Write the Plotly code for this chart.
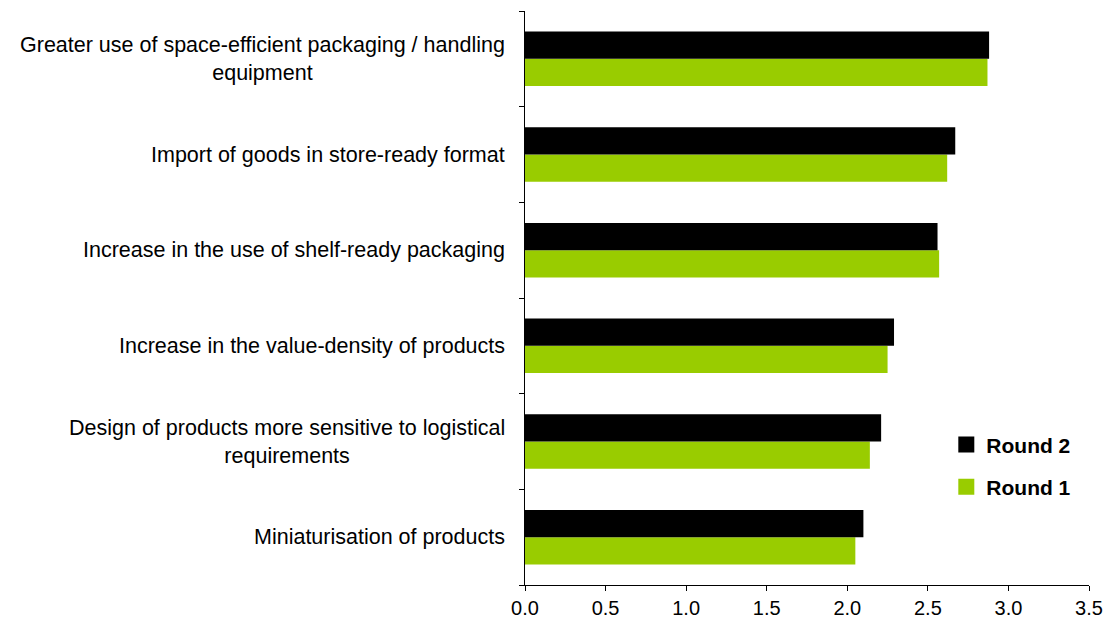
import plotly.graph_objects as go

# Categories listed top to bottom; "<br>" marks where a label wraps
categories = [
    "Greater use of space-efficient packaging / handling<br>equipment",
    "Import of goods in store-ready format",
    "Increase in the use of shelf-ready packaging",
    "Increase in the value-density of products",
    "Design of products more sensitive to logistical<br>requirements",
    "Miniaturisation of products",
]
round2 = [2.88, 2.67, 2.56, 2.29, 2.21, 2.10]
round1 = [2.87, 2.62, 2.57, 2.25, 2.14, 2.05]
x_ticks = [0.0, 0.5, 1.0, 1.5, 2.0, 2.5, 3.0, 3.5]

keys = [c.replace("<br>", " ") for c in categories]

BLACK = "#000000"
GREEN = "#99CC00"
FONT = "Liberation Sans, Arial, sans-serif"

fig = go.Figure()
fig.add_trace(go.Bar(y=keys, x=round1, orientation="h", name="Round 1",
                     marker=dict(color=GREEN, line=dict(width=0)),
                     showlegend=False))
fig.add_trace(go.Bar(y=keys, x=round2, orientation="h", name="Round 2",
                     marker=dict(color=BLACK, line=dict(width=0)),
                     showlegend=False))

# Legend entries with square swatches
for name, color in [("Round 2", BLACK), ("Round 1", GREEN)]:
    fig.add_trace(go.Scatter(
        x=[None], y=[None], mode="markers", name=name, legendgroup=name,
        marker=dict(symbol="square", size=16, color=color),
    ))

# Category labels: block right-aligned to the axis, wrapped lines centred
annotations = [
    dict(x=0, y=key, xref="x", yref="y", text=cat, showarrow=False,
         xanchor="right", yanchor="middle", xshift=-18,
         align="center", font=dict(family=FONT, size=21.5, color="#000000"))
    for key, cat in zip(keys, categories)
]

fig.update_layout(
    width=1114, height=630,
    margin=dict(l=525, r=21, t=11, b=42),
    paper_bgcolor="white", plot_bgcolor="white",
    barmode="group", bargap=0.43, bargroupgap=0,
    font=dict(family=FONT, size=20, color="#000000"),
    annotations=annotations,
    legend=dict(
        x=0.747, y=0.28, xanchor="left", yanchor="top",
        traceorder="grouped", tracegroupgap=12,
        font=dict(family=FONT, size=21, color="#000000", weight="bold"),
        bgcolor="rgba(0,0,0,0)", itemwidth=30,
    ),
)
fig.update_xaxes(
    range=[0, 3.5], tickvals=x_ticks, ticktext=[f"{v:.1f}" for v in x_ticks],
    showline=True, linecolor="#000000", linewidth=1,
    ticks="outside", ticklen=5, tickcolor="#000000",
    showgrid=False, zeroline=False,
    tickfont=dict(family=FONT, size=20),
)
fig.update_yaxes(
    type="category", categoryorder="array", categoryarray=keys[::-1],
    showline=True, linecolor="#000000", linewidth=1,
    ticks="outside", ticklen=5, tickcolor="#000000", tickson="boundaries",
    showticklabels=False, showgrid=False, zeroline=False,
)

fig.write_html("out.html")
